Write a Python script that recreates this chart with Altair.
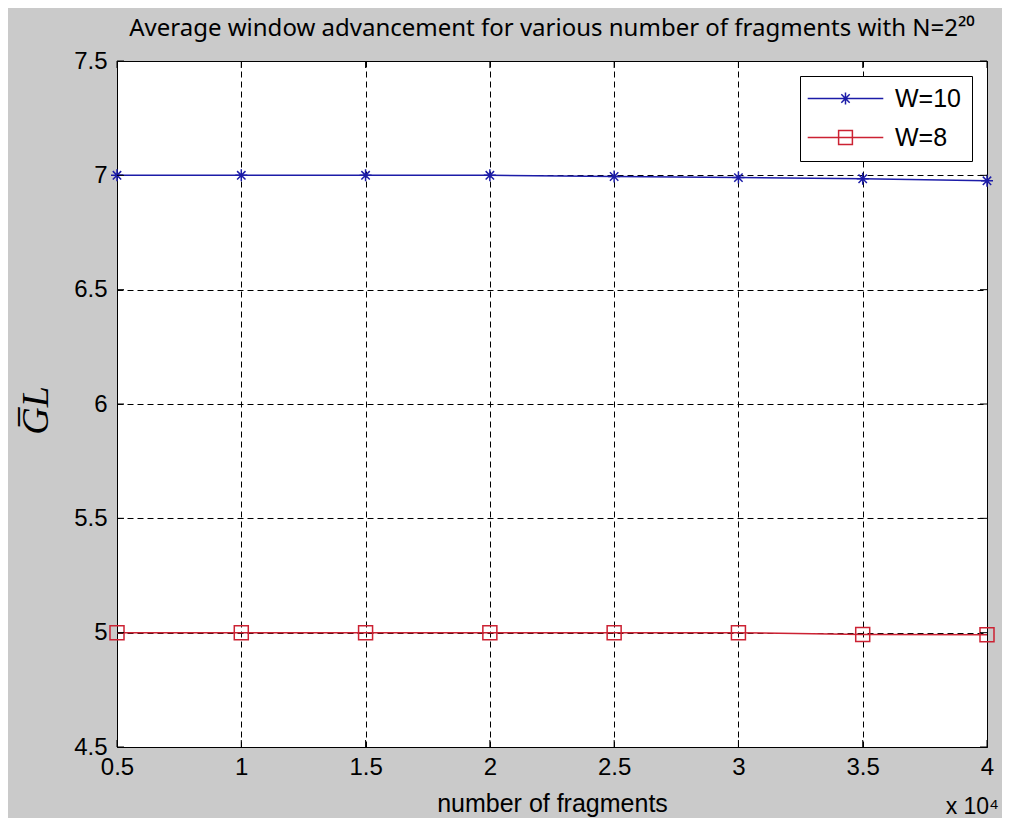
import altair as alt
import pandas as pd

# ---- data ----
fragments = [5000, 10000, 15000, 20000, 25000, 30000, 35000, 40000]
w10_values = [7.000, 7.000, 7.000, 7.000, 6.995, 6.990, 6.985, 6.976]
w8_values = [5.000, 5.000, 5.000, 5.000, 5.000, 5.000, 4.992, 4.991]
series_names = ["W=10", "W=8"]
x_ticks = [5000, 10000, 15000, 20000, 25000, 30000, 35000, 40000]
y_ticks = [4.5, 5.0, 5.5, 6.0, 6.5, 7.0, 7.5]

title_text = "Average window advancement for various number of fragments with N=2²⁰"
x_title = "number of fragments"
y_title = "G̅L"
x_multiplier = "x 10⁴"

BLUE = "#1c1ca8"
RED = "#cc2233"
W, H = 870, 686
FONT = "Liberation Sans"

ASTERISK = "M0,-1V1M-1,0H1M-0.7,-0.7L0.7,0.7M-0.7,0.7L0.7,-0.7"
LEG_W10 = "M-6.3,0H6.3" + ASTERISK
LEG_W8 = "M-6.3,0H6.3M-1.15,-1.15H1.15V1.15H-1.15Z"

df = pd.DataFrame({
    "fragments": fragments * 2,
    "value": w10_values + w8_values,
    "series": [series_names[0]] * len(fragments) + [series_names[1]] * len(fragments),
})
xt = pd.DataFrame({"fragments": x_ticks})
yt = pd.DataFrame({"value": y_ticks})

x_scale = alt.Scale(domain=[5000, 40000], nice=False, zero=False)
y_scale = alt.Scale(domain=[4.5, 7.5], nice=False, zero=False)

x_axis = alt.Axis(values=x_ticks, labelExpr="datum.value / 10000", title=x_title,
                  grid=True, labelPadding=8, titlePadding=12, titleFontSize=25,
                  labelFlush=False)
y_axis = alt.Axis(values=y_ticks, format=".1~f", title=y_title, grid=True,
                  labelPadding=10, titleFont="Liberation Serif", titleFontStyle="italic",
                  titleFontSize=38, titleFontWeight="normal",
                  titleX=-81, titleY=H / 2 + 6, titleAngle=270,
                  titleAlign="center", titleBaseline="middle", labelFlush=False)

X = alt.X("fragments:Q", scale=x_scale, axis=x_axis)
Y = alt.Y("value:Q", scale=y_scale, axis=y_axis)

base = alt.Chart(df)

line10 = base.transform_filter(alt.datum.series == series_names[0]).mark_line(
    color=BLUE, strokeWidth=1.5).encode(x=X, y=Y)
line8 = base.transform_filter(alt.datum.series == series_names[1]).mark_line(
    color=RED, strokeWidth=1.5).encode(x=X, y=Y)
pts10 = base.transform_filter(alt.datum.series == series_names[0]).mark_point(
    shape=ASTERISK, size=144, filled=False, color=BLUE, strokeWidth=1.5, opacity=1).encode(x=X, y=Y)
pts8 = base.transform_filter(alt.datum.series == series_names[1]).mark_point(
    shape="square", size=196, filled=False, color=RED, strokeWidth=1.5, opacity=1).encode(x=X, y=Y)

legend = alt.Legend(title=None, orient="none", legendX=683, legendY=15,
                    fillColor="white", strokeColor="black", padding=10,
                    labelFont=FONT, labelFontSize=25, labelColor="black",
                    symbolSize=144, symbolStrokeWidth=1.5, symbolOffset=23,
                    labelOffset=37, rowPadding=13, labelLimit=200)
legend_layer = base.transform_filter("datum.value < 0").mark_point(
    filled=False, strokeWidth=1.5, opacity=1).encode(
    x=X, y=Y,
    color=alt.Color("series:N", scale=alt.Scale(domain=series_names, range=[BLUE, RED]),
                    legend=legend),
    shape=alt.Shape("series:N", scale=alt.Scale(domain=series_names, range=[LEG_W10, LEG_W8]),
                    legend=legend),
)

TL = 7
tick_b = alt.Chart(xt).mark_rule(color="black", strokeWidth=1).encode(
    x=X, y=alt.value(H), y2=alt.value(H - TL))
tick_t = alt.Chart(xt).mark_rule(color="black", strokeWidth=1).encode(
    x=X, y=alt.value(0), y2=alt.value(TL))
tick_l = alt.Chart(yt).mark_rule(color="black", strokeWidth=1).encode(
    y=Y, x=alt.value(0), x2=alt.value(TL))
tick_r = alt.Chart(yt).mark_rule(color="black", strokeWidth=1).encode(
    y=Y, x=alt.value(W), x2=alt.value(W - TL))

mult = alt.Chart(pd.DataFrame({"m": [x_multiplier]})).mark_text(
    font=FONT, fontSize=23, color="black", align="right", baseline="middle", dx=12, dy=60).encode(
    x=alt.datum(40000), y=alt.value(H), text="m:N")

chart = alt.layer(
    line10, line8, pts10, pts8, legend_layer, tick_b, tick_t, tick_l, tick_r, mult
).properties(
    width=W, height=H,
    title=alt.Title(title_text, font="Noto Sans", fontSize=24, fontWeight="normal",
                    color="black", anchor="middle", offset=8),
    autosize=alt.AutoSizeParams(type="none"),
    padding={"left": 109, "top": 53, "right": 15, "bottom": 71},
    background="#cacaca",
).configure_view(
    stroke="black", strokeWidth=1, fill="white"
).configure_axis(
    domain=False, ticks=False, gridColor="black", gridOpacity=1, gridWidth=1,
    gridDash=[6, 4], labelFont=FONT, labelFontSize=24, labelColor="black",
    titleFont=FONT, titleColor="black", titleFontWeight="normal",
)

chart.save("out.html", embed_options={"renderer": "svg", "actions": False})
